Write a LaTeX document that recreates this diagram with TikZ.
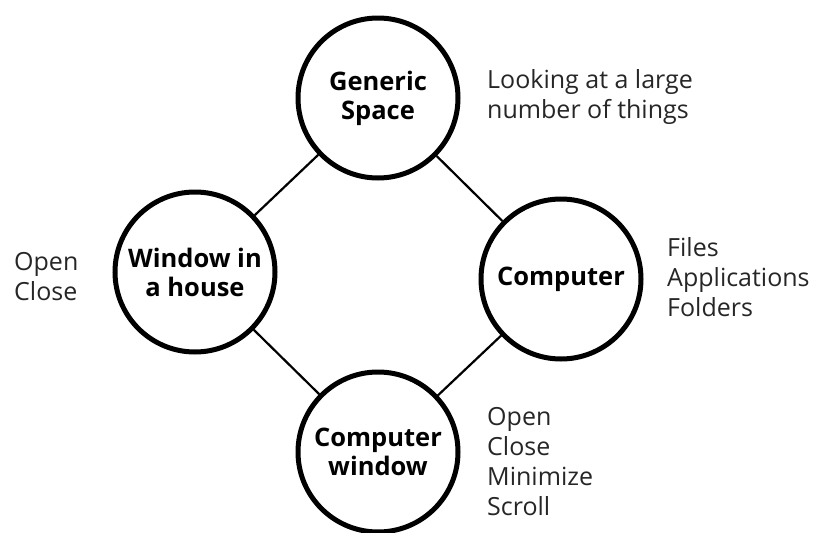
\documentclass[tikz,border=0pt]{standalone}
\usepackage{fontspec}
\setmainfont{Open Sans}
\usetikzlibrary{positioning}

\tikzset{
  topic/.style={draw, circle, line width=5pt, minimum size=160pt, inner sep=0pt,
    align=center, font=\fontsize{25.5}{29}\selectfont\bfseries},
  link/.style={line width=2.2pt},
  notes/.style={anchor=base west, inner sep=0pt, align=left,
    font=\fontsize{25}{30}\selectfont, text=black!85}
}

\begin{document}
\begin{tikzpicture}[x=1pt,y=-1pt]
\useasboundingbox (0,0) rectangle (815,533);

%%% the four circles
\node[topic] (generic) at (378,98) {Generic\\Space};
\node[topic] (house) at (195,272) {Window in\\a house};
\node[topic] (computer) at (561,279) {Computer};
\node[topic] (cwindow) at (378,452) {Computer\\window};

%%% links
\draw[link] (generic) -- (house);
\draw[link] (generic) -- (computer);
\draw[link] (house) -- (cwindow);
\draw[link] (computer) -- (cwindow);

%%% side notes (anchored at the last line)
\node[notes] (genericnotes) at (487,118) {Looking at a large\\number of things};
\node[notes] (computernotes) at (667,316) {Files\\Applications\\Folders};
\node[notes] (housenotes) at (14,300) {Open\\Close};
\node[notes] (cwindownotes) at (487,515) {Open\\Close\\Minimize\\Scroll};

\end{tikzpicture}
\end{document}
